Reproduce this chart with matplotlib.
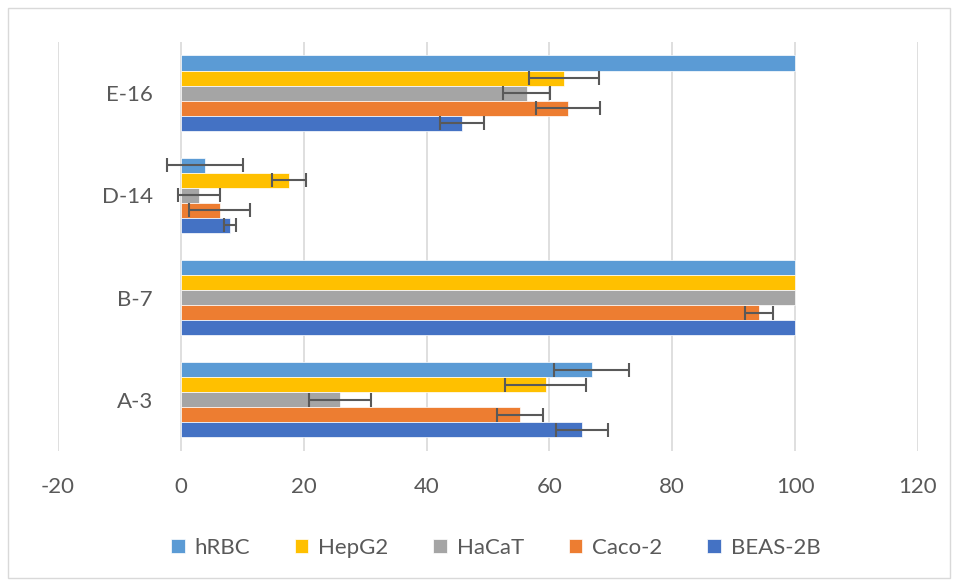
import matplotlib.pyplot as plt
import numpy as np
from matplotlib.patches import Rectangle

plt.rcParams['font.family'] = ['Lato', 'DejaVu Sans']
plt.rcParams['axes.unicode_minus'] = False

categories = ['A-3', 'B-7', 'D-14', 'E-16']
series = ['hRBC', 'HepG2', 'HaCaT', 'Caco-2', 'BEAS-2B']
colors = ['#5B9BD5', '#FFC000', '#A5A5A5', '#ED7D31', '#4472C4']

# values per category (A-3, B-7, D-14, E-16)
hrbc = [66.9, 100, 4.0, 100]
hepg2 = [59.4, 100, 17.6, 62.4]
hacat = [25.9, 100, 2.9, 56.3]
caco2 = [55.2, 94.1, 6.3, 63.0]
beas2b = [65.3, 100, 8.0, 45.8]

hrbc_err = [6.1, 0, 6.2, 0]
hepg2_err = [6.6, 0, 2.7, 5.7]
hacat_err = [5.1, 0, 3.4, 3.8]
caco2_err = [3.7, 2.3, 5.0, 5.2]
beas2b_err = [4.3, 0, 0.9, 3.6]

values = [hrbc, hepg2, hacat, caco2, beas2b]
errors = [hrbc_err, hepg2_err, hacat_err, caco2_err, beas2b_err]

fig = plt.figure(figsize=(9.57, 5.81), dpi=100)
ax = fig.add_axes([0.0606, 0.2238, 0.8986, 0.704])

y = np.arange(len(categories))
h = 0.147
for i, name in enumerate(series):
    offset = (2 - i) * h
    ax.barh(y + offset, values[i], height=h, color=colors[i], label=name,
            edgecolor='white', linewidth=0.5, zorder=3)
    err = np.array(errors[i])
    mask = err > 0
    ax.errorbar(np.array(values[i])[mask], (y + offset)[mask], xerr=err[mask],
                fmt='none', ecolor='#595959', elinewidth=1.5, capsize=5,
                capthick=1.5, zorder=4)

ax.set_xlim(-20, 120)
ax.set_ylim(-0.5, len(categories) - 0.5)
ax.set_xticks(range(-20, 121, 20))
ax.set_yticks(y)
ax.set_yticklabels(categories)
# vertical axis crosses at 0, so category labels sit left of the 0 line
ax.spines['left'].set_position(('data', 0))
ax.tick_params(axis='both', length=0, labelsize=16, colors='#595959')
ax.tick_params(axis='y', pad=20)
ax.tick_params(axis='x', pad=19)
ax.grid(axis='x', color='#D9D9D9', linewidth=1.2, zorder=0)
for s in ax.spines.values():
    s.set_visible(False)

handles, labels = ax.get_legend_handles_labels()
fig.legend(handles, labels, loc='center', bbox_to_anchor=(0.518, 0.057), ncol=5,
           frameon=False, fontsize=16, handlelength=0.62, handleheight=0.62,
           columnspacing=2.0, handletextpad=0.45, labelcolor='#595959')

fig.patches.append(Rectangle((0.008, 0.006), 0.985, 0.98, transform=fig.transFigure,
                             fill=False, edgecolor='#D9D9D9', linewidth=1))

fig.savefig('out.png', dpi=100)
